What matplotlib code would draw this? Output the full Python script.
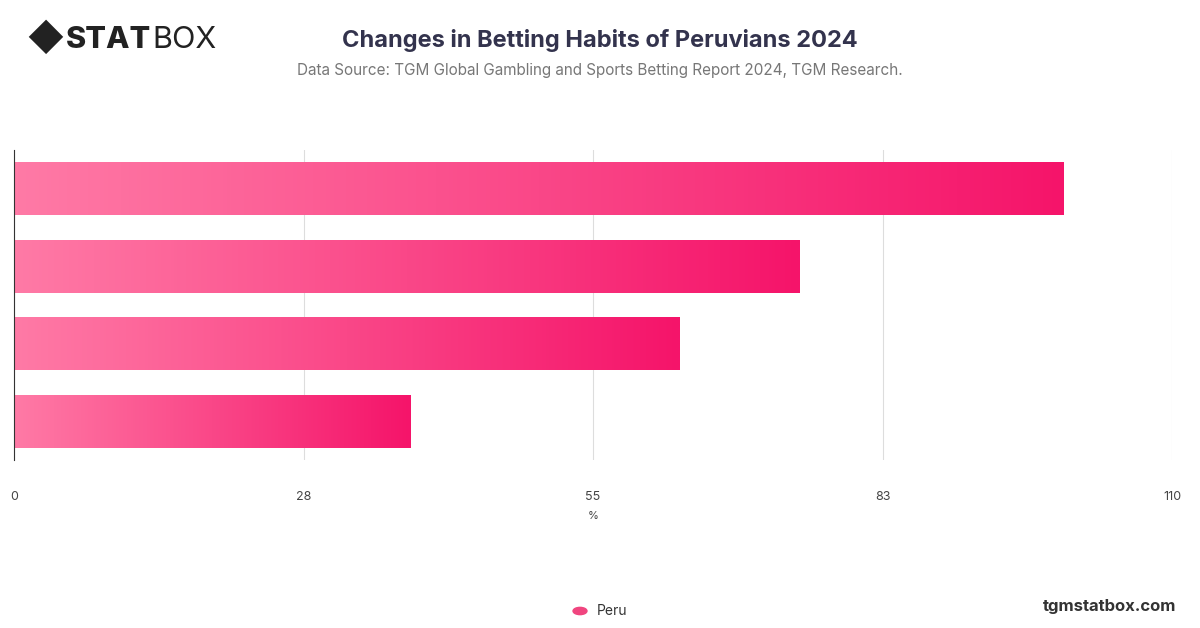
import matplotlib.pyplot as plt
import numpy as np
from matplotlib.colors import LinearSegmentedColormap
from matplotlib.patches import Rectangle

plt.rcParams['font.family'] = ['Inter', 'DejaVu Sans']

categories = ['Item 1', 'Item 2', 'Item 3', 'Item 4']
values = [99.7, 74.6, 63.2, 37.7]
tick_pos = [0, 27.5, 55, 82.5, 110]
tick_labels = ['0', '28', '55', '83', '110']

fig = plt.figure(figsize=(12, 6.28), dpi=100)
ax = fig.add_axes([14 / 1200, 1 - 460 / 628, 1158 / 1200, 310 / 628])

cmap = LinearSegmentedColormap.from_list('pink', ['#ff7aa6', '#f5146a'])
grad = np.linspace(0, 1, 256).reshape(1, -1)

ys = np.arange(len(values))
h = 0.69
for y, v in zip(ys, values):
    im = ax.imshow(grad, cmap=cmap, aspect='auto', extent=[0, v, y - h / 2, y + h / 2], zorder=2)
    r = Rectangle((0, y - h / 2), v, h, transform=ax.transData, facecolor='none', edgecolor='none')
    ax.add_patch(r)
    im.set_clip_path(r)

ax.set_xlim(0, 110)
ax.set_ylim(len(values) - 0.5, -0.5)
ax.set_xticks(tick_pos)
ax.set_xticklabels(tick_labels, fontsize=9, color='#444444')
ax.tick_params(axis='x', length=0, pad=22)
ax.set_yticks([])
ax.grid(axis='x', color='#dddddd', linewidth=0.8, zorder=0)
for s in ['top', 'right', 'bottom']:
    ax.spines[s].set_visible(False)
ax.spines['left'].set_color('#333333')
ax.spines['left'].set_linewidth(0.8)
ax.set_xlabel('%', fontsize=8, color='#444444', labelpad=6)

fig.text(0.5, 1 - 40 / 628, 'Changes in Betting Habits of Peruvians 2024', ha='center', va='center',
         fontsize=17, fontweight='bold', color='#33334d')
fig.text(0.5, 1 - 71 / 628, 'Data Source: TGM Global Gambling and Sports Betting Report 2024, TGM Research.',
         ha='center', va='center', fontsize=11, color='#777777')

# logo
fig.text(26 / 1200, 1 - 40 / 628, '◆', fontsize=26, color='#222222', va='center', ha='left')
fig.text(66 / 1200, 1 - 40 / 628, 'STAT', fontsize=22, fontweight='heavy', color='#222222', va='center', ha='left')
fig.text(152 / 1200, 1 - 40 / 628, 'BOX', fontsize=22, color='#222222', va='center', ha='left')

# legend
fig.patches.append(plt.Circle((580 / 1200, 1 - 611 / 628), 0.0058, transform=fig.transFigure,
                              color='#f0457f', figure=fig))
fig.text(597 / 1200, 1 - 611 / 628, 'Peru', fontsize=10, color='#333333', va='center', ha='left')
fig.text(1176 / 1200, 1 - 606 / 628, 'tgmstatbox.com', fontsize=12, fontweight='bold', color='#333333',
         va='center', ha='right')

fig.savefig('out.png', dpi=100)
